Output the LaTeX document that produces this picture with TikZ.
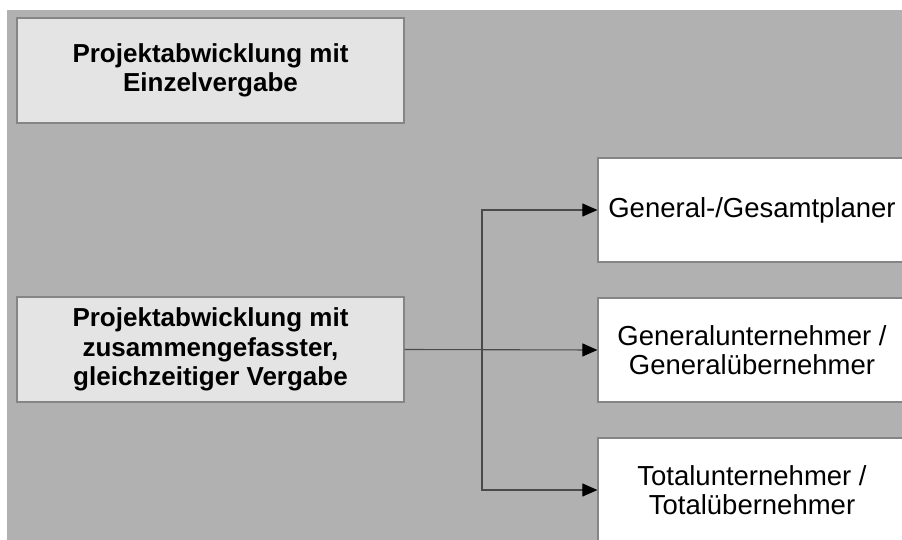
\documentclass[tikz,border=0pt]{standalone}
\usepackage{fontspec}
\setmainfont{Liberation Sans}
\usetikzlibrary{arrows.meta}
\definecolor{panelgray}{HTML}{B1B1B1}
\definecolor{boxgray}{HTML}{E4E4E4}
\definecolor{edgegray}{HTML}{858585}
\definecolor{linegray}{HTML}{4A4A4A}
\tikzset{
  leftbox/.style={draw=edgegray, line width=1.2pt, fill=boxgray,
    minimum width=387pt, minimum height=105pt, inner sep=0pt,
    align=center, font=\fontsize{26}{29.5}\selectfont\bfseries},
  rightbox/.style={draw=edgegray, line width=1.2pt, fill=white,
    minimum width=308pt, minimum height=104pt, inner sep=0pt,
    align=center, font=\fontsize{27.5}{29.5}\selectfont},
  conn/.style={draw=linegray, line width=1.1pt,
    -{Triangle[length=15pt, width=13pt, color=black]}},
}
\begin{document}
\begin{tikzpicture}[x=1pt, y=-1pt]
  \useasboundingbox (0,0) rectangle (902,540);
  \clip (0,0) rectangle (902,540);
  % white page with the gray panel
  \fill[white] (0,0) rectangle (902,540);
  \fill[panelgray] (7,10) rectangle (910,550);

  % left column
  \node[leftbox] (einzel) at (210.5,70.5) {Projektabwicklung mit\\Einzelvergabe};
  \node[leftbox] (gesamt) at (210.5,349.5) {Projektabwicklung mit\\zusammengefasster,\\gleichzeitiger Vergabe};

  % right column
  \node[rightbox] (planer) at (752,210) {General-/Gesamtplaner};
  \node[rightbox] (gu) at (752,350) {Generalunternehmer /\\Generalübernehmer};
  \node[rightbox] (tu) at (752,490) {Totalunternehmer /\\Totalübernehmer};

  % branching connectors
  \coordinate (fork) at (482,350);
  \draw[conn] (gesamt.east) -- (gu.west);
  \draw[conn] (fork) |- (planer.west);
  \draw[conn] (fork) |- (tu.west);
\end{tikzpicture}
\end{document}
